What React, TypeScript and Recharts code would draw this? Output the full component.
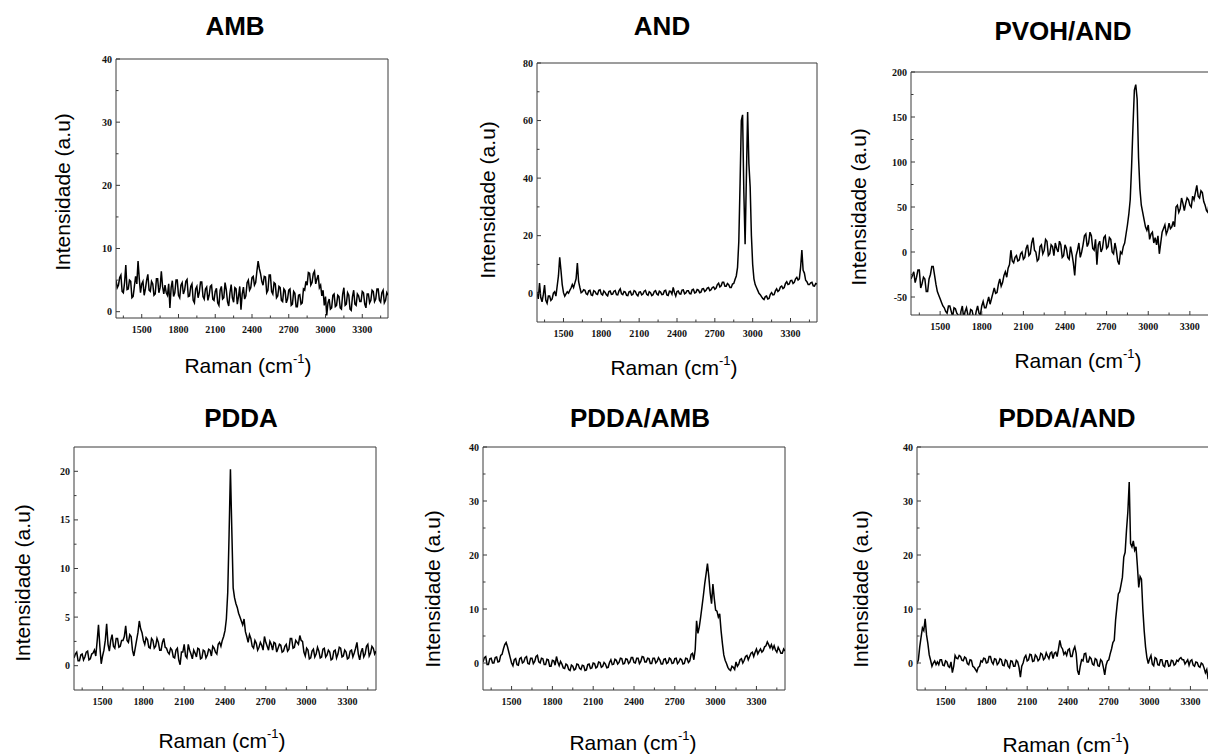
import { LineChart, Line, XAxis, YAxis, ReferenceLine } from 'recharts'

// Raman shift grid (cm-1) shared by all six spectra, 10 cm-1 step
const ramanShift = [
  1290, 1300, 1310, 1320, 1330, 1340, 1350, 1360, 1370, 1380, 1390, 1400, 1410, 1420, 1430, 1440, 1450, 1460, 1470, 1480,
  1490, 1500, 1510, 1520, 1530, 1540, 1550, 1560, 1570, 1580, 1590, 1600, 1610, 1620, 1630, 1640, 1650, 1660, 1670, 1680,
  1690, 1700, 1710, 1720, 1730, 1740, 1750, 1760, 1770, 1780, 1790, 1800, 1810, 1820, 1830, 1840, 1850, 1860, 1870, 1880,
  1890, 1900, 1910, 1920, 1930, 1940, 1950, 1960, 1970, 1980, 1990, 2000, 2010, 2020, 2030, 2040, 2050, 2060, 2070, 2080,
  2090, 2100, 2110, 2120, 2130, 2140, 2150, 2160, 2170, 2180, 2190, 2200, 2210, 2220, 2230, 2240, 2250, 2260, 2270, 2280,
  2290, 2300, 2310, 2320, 2330, 2340, 2350, 2360, 2370, 2380, 2390, 2400, 2410, 2420, 2430, 2440, 2450, 2460, 2470, 2480,
  2490, 2500, 2510, 2520, 2530, 2540, 2550, 2560, 2570, 2580, 2590, 2600, 2610, 2620, 2630, 2640, 2650, 2660, 2670, 2680,
  2690, 2700, 2710, 2720, 2730, 2740, 2750, 2760, 2770, 2780, 2790, 2800, 2810, 2820, 2830, 2840, 2850, 2860, 2870, 2880,
  2890, 2900, 2910, 2920, 2930, 2940, 2950, 2960, 2970, 2980, 2990, 3000, 3010, 3020, 3030, 3040, 3050, 3060, 3070, 3080,
  3090, 3100, 3110, 3120, 3130, 3140, 3150, 3160, 3170, 3180, 3190, 3200, 3210, 3220, 3230, 3240, 3250, 3260, 3270, 3280,
  3290, 3300, 3310, 3320, 3330, 3340, 3350, 3360, 3370, 3380, 3390, 3400, 3410, 3420, 3430, 3440, 3450, 3460, 3470, 3480,
  3490, 3500, 3510,
]

const amb = [
  5.0, 3.8, 4.2, 5.4, 5.8, 3.2, 3.0, 4.6, 7.4, 3.5, 3.6, 5.0, 4.8, 2.2, 2.4, 4.0, 5.6, 4.4, 8.0, 5.2,
  3.0, 4.4, 4.8, 2.6, 3.6, 5.0, 5.9, 3.4, 3.2, 4.8, 4.4, 2.6, 2.8, 5.2, 5.2, 3.0, 3.8, 6.4, 4.0, 2.8,
  4.2, 3.0, 2.6, 4.4, 0.6, 3.8, 4.9, 2.4, 3.0, 5.0, 5.0, 2.6, 2.2, 4.2, 4.6, 2.8, 3.4, 4.8, 5.1, 2.4,
  2.5, 4.0, 4.4, 1.8, 1.4, 3.6, 4.0, 2.2, 3.1, 4.7, 4.7, 2.4, 2.0, 3.6, 3.9, 1.8, 2.6, 4.0, 4.2, 2.0,
  1.8, 3.2, 3.7, 1.4, 1.0, 3.4, 4.0, 2.0, 2.2, 4.6, 3.5, 1.6, 0.9, 3.0, 4.3, 2.2, 1.5, 3.8, 3.6, 1.2,
  2.4, 4.0, 0.3, 2.8, 3.9, 2.0, 2.5, 4.6, 5.0, 3.4, 3.8, 5.4, 5.6, 4.2, 4.6, 6.4, 8.0, 6.8, 6.0, 4.8,
  4.2, 5.6, 5.5, 3.0, 3.4, 5.8, 5.8, 3.2, 2.8, 4.6, 4.4, 2.2, 2.5, 4.0, 3.8, 1.8, 1.6, 3.6, 3.3, 1.4,
  2.0, 3.4, 3.6, 1.0, 1.2, 3.2, 2.9, 0.8, 0.8, 2.6, 2.7, 1.2, 1.4, 3.6, 3.4, 4.8, 4.2, 6.2, 6.1, 4.2,
  4.6, 6.0, 6.4, 4.4, 5.2, 5.8, 3.8, 4.2, 2.5, 3.4, 1.0, 2.4, -0.6, 1.4, 2.0, 0.4, 0.6, 2.6, 2.8, 0.8,
  1.0, 2.6, 2.4, 0.6, 0.4, 2.8, 3.8, 1.0, 1.2, 3.0, 2.6, 0.4, 0.2, 2.4, 3.4, 1.2, 1.0, 2.8, 2.5, 1.6,
  1.6, 3.2, 3.0, 1.2, 0.6, 2.8, 2.8, 1.4, 1.8, 3.4, 3.2, 1.6, 2.0, 3.6, 3.6, 1.8, 1.5, 3.0, 3.4, 1.4,
  1.8, 3.0, 2.6,
]

const and = [
  0.5, -2.0, 3.5, -1.5, -3.0, -0.5, 2.8, -2.5, -3.5, -1.0, -1.0, -2.5, -2.0, 0.0, 0.5, -1.0, 2.5, 6.0, 12.5, 8.0,
  3.0, 0.2, -1.0, -0.2, 0.5, 0.0, 1.0, 1.8, 3.0, 2.0, 3.5, 5.0, 10.5, 4.0, 2.0, 0.2, 0.5, 1.2, 1.0, -0.2,
  -0.5, 0.8, 1.0, -0.6, -0.8, 0.9, 0.6, -0.2, -0.4, 1.0, 1.2, -0.3, -0.6, 0.8, 0.3, -0.5, -0.9, 0.6, 0.8, -0.4,
  -0.3, 0.7, 0.9, -0.5, -0.6, 0.8, 1.5, -0.2, -0.5, 0.6, 0.4, -0.7, -0.8, 0.5, 0.7, -0.6, -0.4, 0.9, 0.6, -0.5,
  -0.9, 0.4, 0.5, -0.6, -0.3, 0.7, 1.0, -0.4, -0.7, 0.5, 0.2, -0.8, -0.5, 0.6, 0.9, -0.3, -0.6, 0.7, 0.4, -0.5,
  -0.4, 0.8, 1.0, -0.6, -0.8, 0.7, 0.6, -0.3, 2.0, 0.2, -1.0, 0.6, 0.8, -0.2, -0.3, 1.1, 1.2, -0.2, 0.1, 0.9,
  0.9, -0.1, -0.2, 1.2, 1.4, 0.1, 0.3, 1.3, 1.1, 0.2, 0.4, 1.5, 1.6, 0.6, 1.0, 1.8, 2.0, 0.9, 1.2, 2.0,
  2.2, 1.4, 1.8, 3.0, 3.5, 2.2, 2.6, 3.8, 3.8, 2.4, 2.4, 3.4, 3.0, 2.0, 2.0, 3.2, 3.4, 4.8, 6.0, 9.0,
  18, 38, 60, 62, 35, 17, 40, 63, 45, 37, 20, 10, 5.0, 3.0, 2.0, 1.0, 0.0, -0.5, -1.2, -1.8,
  -2.2, -1.2, -1.0, -2.0, -1.8, -0.4, 0.2, -0.6, -0.5, 0.8, 1.5, 0.6, 1.0, 2.2, 2.5, 1.6, 2.0, 3.4, 4.0, 3.0,
  3.2, 4.4, 4.5, 3.4, 3.8, 5.0, 5.5, 4.6, 5.0, 9.0, 15, 8.0, 7.0, 4.5, 4.0, 3.0, 3.0, 3.6, 3.8, 2.6,
  2.5, 3.4, 3.2,
]

const pvohAnd = [
  -30, -26, -22, -34, -28, -20, -20, -40, -35, -28, -30, -44, -44, -30, -25, -16, -16, -26, -36, -44,
  -48, -52, -56, -60, -62, -66, -68, -60, -60, -66, -72, -62, -63, -68, -70, -74, -66, -60, -74, -66,
  -62, -70, -72, -64, -65, -72, -75, -66, -60, -68, -70, -60, -55, -62, -62, -56, -50, -58, -52, -46,
  -40, -46, -45, -36, -30, -38, -34, -26, -22, -28, -18, -14, 2, -10, -12, -6, -4, -10, -9, -2,
  0, -8, -6, 4, 8, -4, -2, 10, 16, 2, 0, -10, -8, 6, 8, -2, 2, 14, 12, -4,
  -2, 8, 6, -4, 10, 4, 0, 12, 8, -6, -4, 8, 4, -6, -8, 6, -2, -12, -26, -4,
  2, 10, -6, 0, 8, 18, 20, 6, 10, 22, 18, 4, 2, 14, -14, 8, 12, 0, 4, 16,
  18, 4, 6, 16, 14, 0, -2, 10, 2, -10, -14, 0, -2, 6, 10, 20, 30, 42, 58, 95,
  140, 180, 186, 170, 105, 70, 52, 44, 36, 28, 24, 30, 14, 20, 22, 10, 16, 8, 18, -2,
  10, 22, 26, 30, 20, 24, 32, 26, 28, 34, 28, 50, 52, 44, 48, 60, 54, 46, 54, 60,
  58, 52, 50, 62, 58, 66, 74, 62, 60, 68, 66, 56, 52, 46, 44, 56, 58, 48, 50, 40,
  56, 50, 48,
]

const pdda = [
  0.8, 1.2, 1.4, 0.5, 0.5, 1.1, 1.2, 0.6, 0.9, 1.4, 1.5, 0.6, 0.7, 1.2, 1.3, 1.6, 1.0, 2.5, 4.2, 2.0,
  0.2, 1.0, 1.6, 2.6, 4.3, 2.2, 1.5, 2.6, 3.2, 2.0, 1.8, 2.8, 2.8, 1.9, 2.0, 2.6, 2.6, 3.0, 4.1, 2.6,
  2.4, 3.2, 3.0, 1.6, 1.0, 1.8, 2.6, 3.4, 4.6, 3.8, 3.4, 2.6, 2.2, 2.9, 2.7, 1.9, 1.8, 2.8, 2.6, 1.8,
  2.0, 2.8, 2.4, 1.6, 1.6, 2.4, 2.8, 1.9, 1.8, 1.4, 1.2, 1.8, 1.6, 0.9, 0.8, 1.6, 1.8, 0.6, 0.1, 1.4,
  1.4, 2.2, 1.0, 0.8, 2.2, 1.6, 1.2, 0.7, 1.6, 1.3, 0.9, 1.8, 1.7, 0.7, 0.8, 1.6, 1.5, 0.8, 1.1, 1.7,
  1.6, 1.0, 2.0, 1.8, 1.4, 1.2, 2.2, 2.4, 2.0, 2.6, 3.0, 3.6, 4.8, 7.5, 13.5, 20.2, 14.0, 8.0, 7.0, 6.4,
  6.0, 5.4, 5.0, 4.6, 4.2, 4.8, 3.5, 3.0, 2.4, 3.2, 2.8, 2.0, 1.8, 2.6, 2.3, 1.6, 1.9, 2.4, 2.1, 1.6,
  3.0, 2.4, 2.0, 1.6, 2.5, 2.2, 1.6, 2.4, 2.3, 1.4, 1.8, 2.2, 2.1, 1.4, 1.5, 2.0, 2.2, 1.5, 1.7, 2.8,
  2.8, 1.8, 1.9, 2.6, 2.4, 2.2, 3.1, 2.6, 2.5, 1.4, 1.0, 1.8, 1.6, 0.7, 0.8, 1.5, 1.7, 0.9, 1.2, 1.9,
  1.5, 0.8, 0.9, 1.7, 1.8, 0.9, 1.1, 1.6, 1.4, 0.6, 0.7, 1.5, 1.6, 0.8, 1.2, 1.9, 1.8, 0.9, 1.0, 1.6,
  1.4, 0.7, 0.8, 1.5, 1.6, 0.9, 1.3, 1.8, 2.4, 1.2, 0.6, 1.4, 1.8, 0.9, 1.2, 2.0, 2.2, 1.0, 1.3, 2.0,
  1.8, 1.2, 1.5,
]

const pddaAmb = [
  0.2, 1.0, 1.2, -0.3, -0.3, 0.8, 0.9, 0.0, 0.0, 1.0, 1.1, 0.2, 0.3, 1.4, 1.6, 2.6, 3.4, 3.8, 3.0, 2.0,
  1.0, 0.0, -0.5, 0.6, 0.8, -0.3, -0.4, 0.8, 1.0, 0.0, 0.2, 1.0, 1.2, -0.1, -0.2, 0.9, 0.9, -0.1, 0.3, 1.2,
  1.4, 0.2, 0.0, 0.9, 0.8, -0.3, -0.3, 0.7, 0.6, -0.6, -0.6, 0.5, 0.4, -0.4, 1.2, 0.2, -0.5, 0.3, -0.2, -0.9,
  -1.0, -0.2, -0.4, -1.2, -1.4, -0.4, -0.6, -1.3, -1.1, -0.2, -0.3, -1.0, -1.2, -0.4, -0.5, -1.4, -1.3, -0.3, -0.2, -1.0,
  -0.9, 0.0, -0.1, -0.9, -0.7, 0.2, 0.1, -0.8, -0.6, 0.1, -0.2, -0.9, -0.8, 0.1, 0.6, -0.3, -0.2, 0.7, 0.5, -0.2,
  0.1, 0.9, 0.8, -0.2, -0.1, 0.8, 0.7, -0.1, 0.2, 1.0, 1.0, 0.1, 0.0, 0.9, 0.9, -0.1, 0.3, 1.2, 1.1, 0.2,
  0.2, 0.9, 0.8, -0.1, -0.1, 0.9, 0.9, 0.0, 0.3, 1.0, 0.6, -0.2, -0.2, 0.7, 0.8, -0.1, 0.1, 0.9, 0.7, -0.1,
  0.0, 0.8, 0.9, -0.1, 0.2, 0.8, 0.6, -0.2, -0.1, 0.9, 0.8, 0.1, 0.4, 1.6, 1.8, 0.6, 2.5, 7.8, 5.5, 6.7,
  8.5, 10.5, 12.5, 14.7, 16.5, 18.4, 16.0, 13.0, 11.0, 14.6, 12.0, 9.8, 9.6, 8.5, 9.1, 6.0, 3.6, 1.5, 0.5, -0.1,
  -0.8, -1.2, -1.4, -0.6, -0.8, -1.2, 0.2, -0.6, -0.2, 0.6, 0.8, 0.0, 0.5, 1.2, 1.4, 0.6, 1.2, 1.8, 2.0, 1.2,
  2.0, 2.6, 1.7, 2.2, 2.6, 2.0, 2.3, 3.0, 3.2, 3.9, 3.4, 2.8, 3.4, 2.6, 3.2, 2.4, 2.0, 2.9, 2.4, 1.8,
  1.8, 2.6, 2.2,
]

const pddaAnd = [
  -0.2, 0.6, 3.0, 4.8, 6.5, 6.0, 8.2, 5.2, 3.6, 1.5, 0.5, -0.6, 0.0, 0.4, -0.3, 0.2, -0.3, 0.6, 0.6, -0.4,
  -0.5, 0.4, 0.2, -0.6, -0.8, 0.2, -1.8, -0.6, 1.4, 0.9, 0.8, 1.4, 1.2, 0.5, 0.4, 1.1, 0.9, -0.1, -0.3, 0.6,
  0.5, -0.6, -0.8, -1.2, -1.6, -0.8, -0.6, 0.4, 0.2, 0.9, 0.8, 0.0, 0.1, 1.2, 1.2, 0.2, -0.2, 0.8, 0.7, -0.3,
  0.0, 0.8, 0.6, -0.4, -0.5, 0.6, 0.4, -0.6, -0.9, 0.4, 0.3, -0.6, -0.6, 0.5, 0.2, -0.8, -2.6, -0.6, 0.0, 1.0,
  1.4, 0.4, 0.6, 1.6, 1.5, 0.3, 0.4, 1.5, 1.2, 0.4, 0.7, 1.8, 1.6, 0.6, 0.9, 1.9, 1.3, 0.8, 1.8, 2.0,
  0.8, 1.8, 2.0, 1.2, 2.6, 4.2, 3.0, 2.6, 1.6, 2.0, 1.4, 2.4, 2.6, 1.2, 1.2, 2.4, 3.0, 1.8, -1.4, -2.2,
  -0.6, 0.6, 0.4, 1.7, 1.8, 0.2, 0.2, 1.1, 0.8, -0.2, -0.4, 0.8, 0.6, -0.5, -0.6, 0.6, 0.3, -0.8, -2.2, -0.4,
  0.4, 0.6, 1.7, 2.6, 3.8, 4.2, 8.0, 10.5, 12.8, 13.2, 14.5, 15.9, 19.6, 20.5, 24.6, 28.0, 33.5, 22.1, 21.5, 22.6,
  20.9, 21.5, 18.0, 14.0, 16.0, 15.5, 10.0, 6.0, 3.0, 1.0, -0.1, 0.8, 1.4, -0.2, -0.5, 1.0, 0.8, -0.3, -0.4, 0.6,
  0.6, -0.5, -0.7, 0.4, 0.4, -0.6, -0.5, 0.5, 0.4, -0.4, -0.2, 0.5, 0.3, 0.8, 1.0, 0.6, 0.6, -0.2, 0.2, 0.6,
  -0.4, 0.4, 0.6, -0.4, -0.6, 0.2, 0.1, -0.6, -0.8, 0.0, -0.2, -0.9, -1.8, -1.2, -3.0, -2.0, -2.0, -3.0, -2.4, -1.6,
  -1.5, -2.6, -2.0,
]

const xDomain = [1290, 3510]
const xMajor = [1500, 1800, 2100, 2400, 2700, 3000, 3300]
const xMinor = [1350, 1650, 1950, 2250, 2550, 2850, 3150, 3450]

const frame = '#3a3a3a'
const sans = '"Liberation Sans", Arial, sans-serif'
const serif = '"Liberation Serif", "Times New Roman", serif'

type Pt = [number, number]

interface Panel {
  title: string
  values: number[]
  yDomain: [number, number]
  yMajor: number[]
  yMinor: number[]
  box: [number, number, number, number]
  titleAt: Pt
  yLabelAt: Pt
  xLabelAt: Pt
}

const panels: Panel[] = [
  { title: 'AMB', values: amb, yDomain: [-1, 40], yMajor: [0, 10, 20, 30, 40], yMinor: [5, 15, 25, 35],
    box: [116, 59, 272, 259], titleAt: [235, 26], yLabelAt: [62, 192], xLabelAt: [248, 365] },
  { title: 'AND', values: and, yDomain: [-10, 80], yMajor: [0, 20, 40, 60, 80], yMinor: [10, 30, 50, 70],
    box: [537, 63, 280, 259], titleAt: [662, 26], yLabelAt: [487, 200], xLabelAt: [674, 367] },
  { title: 'PVOH/AND', values: pvohAnd, yDomain: [-70, 200], yMajor: [-50, 0, 50, 100, 150, 200], yMinor: [-25, 25, 75, 125, 175],
    box: [911, 72, 308, 243], titleAt: [1063, 31], yLabelAt: [858, 207], xLabelAt: [1078, 360] },
  { title: 'PDDA', values: pdda, yDomain: [-2.5, 22.5], yMajor: [0, 5, 10, 15, 20], yMinor: [2.5, 7.5, 12.5, 17.5],
    box: [74, 447, 302, 243], titleAt: [241, 418], yLabelAt: [22, 583], xLabelAt: [222, 740] },
  { title: 'PDDA/AMB', values: pddaAmb, yDomain: [-5, 40], yMajor: [0, 10, 20, 30, 40], yMinor: [5, 15, 25, 35],
    box: [483, 447, 302, 243], titleAt: [640, 418], yLabelAt: [432, 589], xLabelAt: [633, 742] },
  { title: 'PDDA/AND', values: pddaAnd, yDomain: [-5, 40], yMajor: [0, 10, 20, 30, 40], yMinor: [5, 15, 25, 35],
    box: [917, 447, 302, 243], titleAt: [1067, 418], yLabelAt: [860, 589], xLabelAt: [1066, 744] },
]

const XTick = (props: any) => {
  const { x, y, payload } = props
  const major = xMajor.includes(payload.value)
  return (
    <g>
      <line x1={x} x2={x} y1={y} y2={y - (major ? 4 : 2.5)} stroke={frame} />
      {major && (
        <text x={x} y={y + 15} textAnchor="middle" fontFamily={serif} fontWeight="bold" fontSize={10} fill="#111">
          {payload.value}
        </text>
      )}
    </g>
  )
}

const makeYTick = (majors: number[]) => (props: any) => {
  const { x, y, payload } = props
  const major = majors.includes(payload.value)
  return (
    <g>
      <line x1={x} x2={x + (major ? 4 : 2.5)} y1={y} y2={y} stroke={frame} />
      {major && (
        <text x={x - 4} y={y + 3.5} textAnchor="end" fontFamily={serif} fontWeight="bold" fontSize={10} fill="#111">
          {payload.value}
        </text>
      )}
    </g>
  )
}

const centered = (at: Pt, extra = ''): React.CSSProperties => ({
  position: 'absolute',
  left: at[0],
  top: at[1],
  transform: `translate(-50%, -50%) ${extra}`,
  whiteSpace: 'nowrap',
  lineHeight: 1,
  fontFamily: sans,
  color: '#000',
})

function Spectrum({ p }: { p: Panel }) {
  const [left, top, w, h] = p.box
  const rows = ramanShift.map((x, i) => ({ x, y: p.values[i] }))
  const yTicks = [...p.yMajor, ...p.yMinor].sort((a, b) => a - b)
  return (
    <>
      <div style={{ position: 'absolute', left: left - 60, top: top - 5 }}>
        <LineChart width={w + 65} height={h + 35} data={rows} margin={{ top: 5, right: 5, bottom: 0, left: 0 }}>
          <XAxis
            dataKey="x"
            type="number"
            domain={xDomain}
            ticks={[...xMajor, ...xMinor].sort((a, b) => a - b)}
            interval={0}
            allowDataOverflow
            height={30}
            tickSize={0}
            tickMargin={0}
            tick={XTick}
            axisLine={{ stroke: frame }}
          />
          <YAxis
            type="number"
            domain={p.yDomain}
            ticks={yTicks}
            interval={0}
            allowDataOverflow
            width={60}
            tickSize={0}
            tickMargin={0}
            tick={makeYTick(p.yMajor)}
            axisLine={{ stroke: frame }}
          />
          <ReferenceLine x={xDomain[1]} stroke={frame} />
          <ReferenceLine y={p.yDomain[1]} stroke={frame} />
          <Line type="linear" dataKey="y" stroke="#000" strokeWidth={1.5} dot={false} isAnimationActive={false} />
        </LineChart>
      </div>
      <div style={{ ...centered(p.titleAt), fontSize: 26, fontWeight: 'bold' }}>{p.title}</div>
      <div style={{ ...centered(p.yLabelAt, 'rotate(-90deg)'), fontSize: 21 }}>Intensidade (a.u)</div>
      <div style={{ ...centered(p.xLabelAt), fontSize: 21 }}>
        Raman (cm<span style={{ fontSize: 13, position: 'relative', top: -10 }}>-1</span>)
      </div>
    </>
  )
}

export default function App() {
  return (
    <div style={{ position: 'absolute', left: 0, top: 0, width: 1208, height: 754, overflow: 'hidden', background: '#fff' }}>
      {panels.map((p) => (
        <Spectrum key={p.title} p={p} />
      ))}
    </div>
  )
}
